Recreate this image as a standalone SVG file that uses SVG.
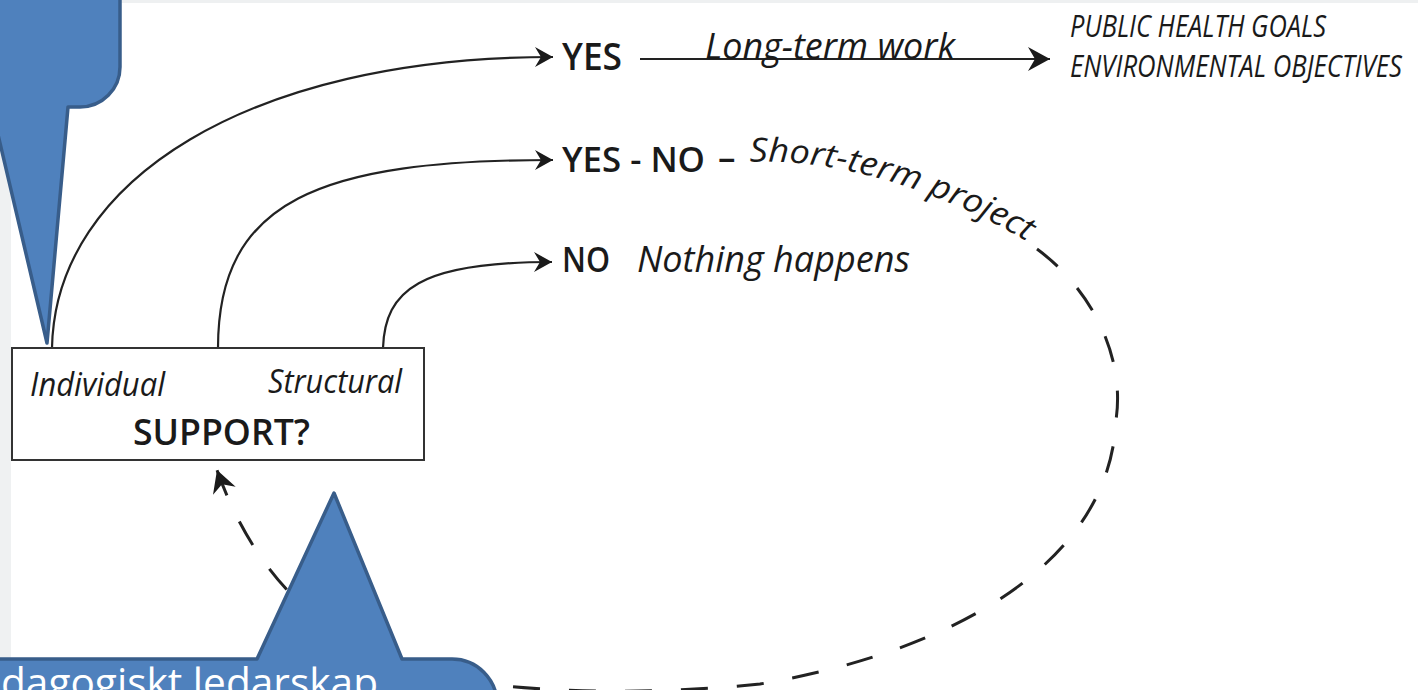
<svg xmlns="http://www.w3.org/2000/svg" width="1418" height="690" viewBox="0 0 1418 690">
<style>
  .lbl { font-family: "Open Sans", "Liberation Sans", sans-serif; fill: #1a1a1a; }
  .cap { font-weight: 600; }
  .it { font-style: italic; }
  .curve { fill: none; stroke: #222; stroke-width: 2.2; }
  .dash { fill: none; stroke: #222; stroke-width: 3; stroke-dasharray: 27 29; }
  .callout { fill: #4f81bd; stroke: #385d8a; stroke-width: 3.5; stroke-linejoin: round; }
  .ctext { font-family: "Open Sans", "Liberation Sans", sans-serif; fill: #ffffff; }
</style>
<defs>
  <marker id="ah" viewBox="-20 -11 21 22" refX="0" refY="0" markerWidth="21" markerHeight="22" markerUnits="userSpaceOnUse" orient="auto">
    <path d="M0 0 L-18 -10 L-12 0 L-18 10 Z" fill="#1a1a1a"/>
  </marker>
  <marker id="ahL" viewBox="-24 -13 25 26" refX="0" refY="0" markerWidth="25" markerHeight="26" markerUnits="userSpaceOnUse" orient="auto">
    <path d="M0 0 L-22 -12 L-15 0 L-22 12 Z" fill="#1a1a1a"/>
  </marker>
  <path id="shortPath" d="M750 162 C830 158 930 185 1030 243"/>
</defs>

<rect x="0" y="0" width="1418" height="690" fill="#ffffff"/>
<rect x="0" y="0" width="1418" height="3" fill="#eef0f1"/>
<rect x="0" y="0" width="11" height="690" fill="#eff1f2"/>

<g id="connectors">
  <path class="curve" d="M52 348 C55 180 250 57 553 57" marker-end="url(#ah)"/>
  <path class="curve" d="M218 348 C218 200 320 160 553 160" marker-end="url(#ah)"/>
  <path class="curve" d="M383 348 C385 290 420 262 552 262" marker-end="url(#ah)"/>
  <path class="curve" d="M640 59 L1050 59" stroke="#444" stroke-width="2.6" marker-end="url(#ahL)"/>
  <path class="dash" d="M1037 249 C1095 292 1125 360 1116 420 C1110 560 960 650 760 684 C660 694 560 694 470 682 C380 670 270 620 217 470" marker-end="url(#ahL)"/>
</g>

<g id="node-support">
  <rect x="12" y="348" width="412" height="112" fill="#ffffff" stroke="#333" stroke-width="2"/>
  <text class="lbl it" x="30" y="396" font-size="32" textLength="135" lengthAdjust="spacingAndGlyphs">Individual</text>
  <text class="lbl it" x="268" y="393" font-size="32" textLength="134" lengthAdjust="spacingAndGlyphs">Structural</text>
  <text class="lbl cap" x="133" y="445" font-size="36" textLength="177" lengthAdjust="spacingAndGlyphs">SUPPORT?</text>
</g>

<g id="node-yes">
  <text class="lbl cap" x="562" y="70" font-size="37" textLength="60" lengthAdjust="spacingAndGlyphs">YES</text>
  <text class="lbl it" x="705" y="59" font-size="36" textLength="250" lengthAdjust="spacingAndGlyphs">Long-term work</text>
</g>

<g id="node-goals">
  <text class="lbl it" x="1070" y="37" font-size="31" font-weight="500" textLength="256" lengthAdjust="spacingAndGlyphs">PUBLIC HEALTH GOALS</text>
  <text class="lbl it" x="1070" y="77" font-size="31" font-weight="500" textLength="332" lengthAdjust="spacingAndGlyphs">ENVIRONMENTAL OBJECTIVES</text>
</g>

<g id="node-yesno">
  <text class="lbl cap" x="562" y="172" font-size="35" textLength="143" lengthAdjust="spacingAndGlyphs">YES - NO</text>
  <text class="lbl cap" x="718" y="170" font-size="35">–</text>
  <text class="lbl it" font-size="33"><textPath href="#shortPath" textLength="292" lengthAdjust="spacingAndGlyphs">Short-term project</textPath></text>
</g>

<g id="node-no">
  <text class="lbl cap" x="562" y="272" font-size="34" textLength="48" lengthAdjust="spacingAndGlyphs">NO</text>
  <text class="lbl it" x="637" y="272" font-size="36" textLength="273" lengthAdjust="spacingAndGlyphs">Nothing happens</text>
</g>

<g id="callout-top">
  <path class="callout" d="M-20 -20 H120 V67 A40 40 0 0 1 80 107 H68 L47 343 L-8.5 107 H-20 Z"/>
</g>

<g id="callout-bottom">
  <path class="callout" d="M-20 659 H257 L334 493 L402 659 H452 A45 45 0 0 1 497 704 V720 H-20 Z"/>
  <text class="ctext" x="1" y="697" font-size="41" textLength="377" lengthAdjust="spacingAndGlyphs">dagogiskt ledarskap</text>
</g>
</svg>
